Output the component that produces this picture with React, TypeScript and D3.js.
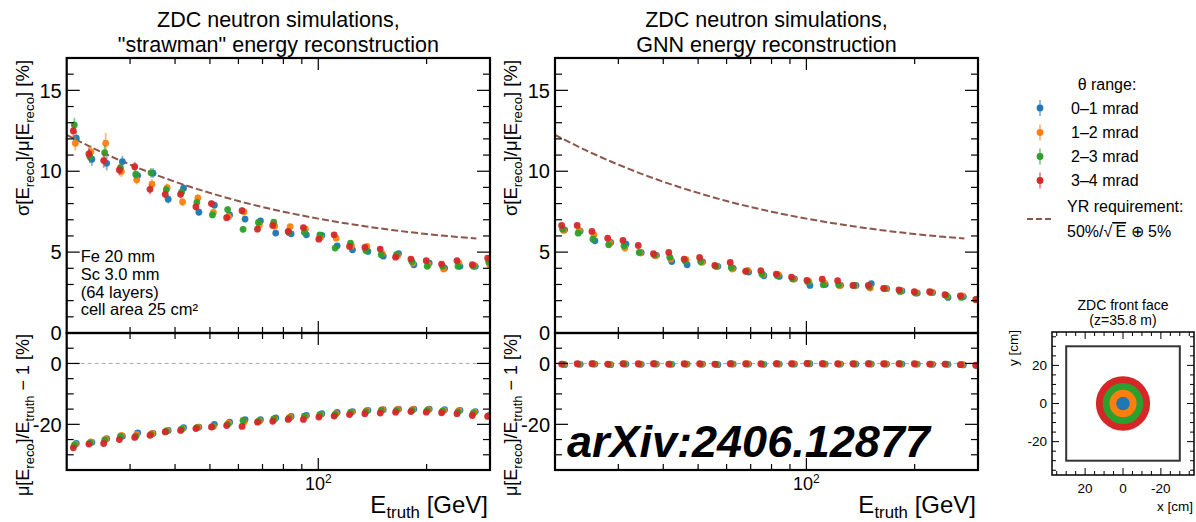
import React from 'react';
import * as d3 from 'd3';

const FONT = '"Liberation Sans", Arial, Helvetica, sans-serif';

// beam energies (bin centres) in GeV
const energies = [21, 23.2, 25.5, 28.2, 31.1, 34.3, 37.8, 41.7, 46, 50.8, 56, 61.8, 68.2, 75.2,
  83, 91.5, 101, 111.4, 122.9, 135.6, 149.6, 165, 182, 200.8, 221.5, 244.4, 269.6, 297.4];

const thetaLabels = ['0\u20131 mrad', '1\u20132 mrad', '2\u20133 mrad', '3\u20134 mrad'];
const thetaColors = ['#1f77b4', '#ff7f0e', '#2ca02c', '#d62728'];

// "strawman" reconstruction, resolution [%]
const strawRes01 = [12.04, 10.74, 10.49, 10.6, 9.73, 9.88, 8.27, 8.95, 7.47, 7.9, 7.3, 7.04, 6.93, 6.18, 6.13, 6.07, 6.03, 5.39, 5.14, 5.04, 4.75, 4.9, 4.22, 4.32, 4.01, 4.12, 4.12, 4.3];
const strawRes12 = [11.73, 11.2, 11.73, 9.98, 9.48, 9.2, 8.98, 8.1, 8.35, 7.45, 7.2, 7.48, 6.69, 6.6, 6.58, 6.42, 5.93, 5.86, 5.39, 5.35, 4.9, 4.77, 4.32, 4.22, 3.95, 4.32, 4.18, 4.22];
const strawRes23 = [12.86, 10.9, 11.15, 10.2, 9.8, 9.9, 8.85, 8.7, 8.08, 7.3, 7.63, 6.41, 6.83, 6.85, 6.2, 6.23, 6.07, 5.25, 5.56, 5.1, 4.84, 4.84, 4.42, 4.12, 4.12, 4.12, 4.12, 4.4];
const strawRes34 = [12.49, 11.07, 10.66, 10.08, 10.28, 8.88, 8.57, 8.57, 7.8, 8.0, 7.13, 7.56, 6.42, 6.65, 6.28, 6.52, 5.8, 6.07, 5.35, 5.29, 5.19, 4.69, 4.57, 4.47, 4.26, 4.47, 4.22, 4.63];
const strawErr = [0.45, 0.4, 0.45, 0.35, 0.3, 0.3, 0.26, 0.25, 0.22, 0.21, 0.2, 0.2, 0.18, 0.16, 0.15, 0.15, 0.14, 0.13, 0.12, 0.12, 0.11, 0.1, 0.1, 0.1, 0.1, 0.1, 0.1, 0.1];

// "strawman" reconstruction, bias [%]
const strawBias01 = [-26.3, -25.9, -24.7, -23.9, -22.8, -23.0, -22.0, -21.1, -20.9, -20.0, -19.3, -18.5, -18.5, -17.9, -17.4, -17.1, -16.5, -16.1, -15.8, -15.4, -15.2, -15.0, -15.0, -15.0, -15.2, -15.4, -15.8, -16.8];
const strawBias12 = [-26.6, -25.8, -24.9, -23.6, -23.3, -23.0, -22.0, -21.4, -20.9, -20.7, -19.6, -19.2, -18.9, -18.3, -17.6, -17.4, -16.8, -16.5, -16.0, -15.5, -15.2, -15.1, -15.1, -15.2, -15.4, -15.5, -16.0, -17.0];
const strawBias23 = [-26.8, -26.1, -25.2, -24.0, -23.9, -23.3, -22.3, -21.6, -21.1, -20.7, -20.0, -18.7, -19.0, -18.2, -17.9, -17.3, -16.8, -16.7, -16.1, -15.8, -15.4, -15.4, -15.4, -15.4, -15.7, -15.9, -16.3, -17.2];
const strawBias34 = [-27.7, -26.5, -26.3, -25.0, -24.3, -23.6, -22.5, -22.0, -21.4, -20.9, -20.4, -20.7, -19.3, -19.0, -18.4, -18.4, -17.6, -17.3, -16.8, -16.5, -16.3, -16.0, -15.8, -16.0, -16.2, -16.5, -17.1, -17.4];

// GNN reconstruction, resolution [%]
const gnnRes01 = [6.38, 6.3, 5.7, 5.6, 5.49, 4.96, 4.8, 4.42, 4.22, 4.4, 4.12, 4.0, 3.77, 3.54, 3.5, 3.35, 2.94, 3.0, 2.95, 2.94, 3.05, 2.74, 2.6, 2.47, 2.5, 2.2, 2.25, 2.1];
const gnnRes12 = [6.34, 6.34, 6.07, 5.56, 5.25, 4.94, 4.77, 4.57, 4.53, 4.36, 4.12, 3.95, 3.87, 3.62, 3.6, 3.33, 3.19, 3.09, 2.92, 2.92, 2.78, 2.74, 2.6, 2.5, 2.52, 2.3, 2.3, 2.1];
const gnnRes23 = [6.42, 6.17, 5.8, 5.45, 5.39, 4.98, 4.82, 4.69, 4.45, 4.42, 4.12, 4.05, 3.81, 3.64, 3.54, 3.35, 3.15, 2.98, 2.98, 2.94, 2.85, 2.74, 2.57, 2.47, 2.5, 2.33, 2.2, 2.1];
const gnnRes34 = [6.65, 6.65, 6.28, 5.86, 5.72, 5.41, 4.9, 4.98, 4.57, 4.67, 4.18, 4.36, 3.81, 3.85, 3.64, 3.46, 3.25, 3.33, 3.23, 2.94, 2.94, 2.76, 2.67, 2.55, 2.55, 2.37, 2.3, 2.06];
const gnnErr = [0.08, 0.08, 0.07, 0.07, 0.07, 0.06, 0.06, 0.06, 0.05, 0.05, 0.05, 0.05, 0.05, 0.04, 0.04, 0.04, 0.04, 0.04, 0.04, 0.04, 0.04, 0.03, 0.03, 0.03, 0.03, 0.03, 0.03, 0.03];

// GNN reconstruction, bias [%]
const gnnBias01 = [-0.4, -0.3, -0.2, -0.4, -0.2, -0.3, -0.2, -0.3, -0.2, -0.2, -0.4, -0.2, -0.2, -0.3, -0.2, -0.2, -0.1, -0.2, -0.2, -0.2, -0.2, -0.2, -0.2, -0.2, -0.3, -0.3, -0.5, -0.8];
const gnnBias12 = [-0.3, -0.2, -0.2, -0.3, -0.1, -0.2, -0.2, -0.2, -0.2, -0.3, -0.3, -0.2, -0.1, -0.2, -0.2, -0.1, -0.1, -0.2, -0.2, -0.1, -0.2, -0.1, -0.2, -0.2, -0.2, -0.3, -0.4, -0.7];
const gnnBias23 = [-0.2, -0.2, -0.1, -0.3, -0.2, -0.2, -0.1, -0.2, -0.2, -0.2, -0.3, -0.1, -0.2, -0.2, -0.1, -0.2, -0.1, -0.1, -0.2, -0.2, -0.1, -0.2, -0.1, -0.2, -0.2, -0.2, -0.4, -0.7];
const gnnBias34 = [-0.2, -0.1, -0.1, -0.2, -0.1, -0.1, -0.1, -0.2, -0.1, -0.1, -0.2, -0.1, -0.1, -0.1, -0.1, -0.1, 0.0, -0.1, -0.1, -0.1, -0.1, -0.1, -0.1, -0.1, -0.2, -0.2, -0.4, -0.6];

// YR requirement 50%/sqrt(E) (+) 5%
const yrEnergies = [20, 25, 30, 40, 50, 60, 80, 100, 130, 160, 200, 240, 275];
const yrValues = [12.25, 11.18, 10.41, 9.35, 8.66, 8.16, 7.5, 7.07, 6.65, 6.37, 6.12, 5.95, 5.84];

const xMinorTicks = [30, 40, 50, 60, 70, 80, 90, 200];
const xMajorTicks = [100];
const resTickLabels = [0, 5, 10, 15];
const biasTickLabels = [0, -20];

// front face: outer radius of each theta ring at z = 35.8 m [cm]
const ringRadii = [3.58, 7.16, 10.74, 14.32];
const faceTickLabels = [20, 0, -20];

const seriesDx = [2, 1, 0, -1];

const RES_TOP = 58, MID = 333, BOT = 470;

// text pieces with subscripts: [text, isSub]
function SubText({ parts, dy = 5, size = 0.72 }: any) {
  let shifted = false;
  return (
    <>
      {parts.map(([t, isSub]: any, i: number) => {
        let d = 0;
        if (isSub && !shifted) { d = dy; shifted = true; }
        else if (!isSub && shifted) { d = -dy; shifted = false; }
        return (
          <tspan key={i} dy={d || undefined} fontSize={isSub ? `${size}em` : undefined}>{t}</tspan>
        );
      })}
    </>
  );
}

function Panel({ left, right, res, bias, err, title2, note }: any) {
  const x = d3.scaleLog().domain([20, 300]).range([left, right]);
  const yRes = d3.scaleLinear().domain([0, 17]).range([MID, RES_TOP]);
  const yBias = d3.scaleLinear().domain([-35, 10]).range([BOT, MID]);
  const cx = (left + right) / 2;
  const yrLine = d3.line<number>()
    .x((_, i) => x(yrEnergies[i]))
    .y(d => yRes(d))
    .curve(d3.curveMonotoneX);

  const xTicks = (yTop: number, yBot: number, k: string) => (
    <g key={k} stroke="#000" strokeWidth={1.2}>
      {xMinorTicks.map(v => (
        <g key={v}>
          <line x1={x(v)} x2={x(v)} y1={yTop} y2={yTop + 6} />
          <line x1={x(v)} x2={x(v)} y1={yBot} y2={yBot - 6} />
        </g>
      ))}
      {xMajorTicks.map(v => (
        <g key={v}>
          <line x1={x(v)} x2={x(v)} y1={yTop} y2={yTop + 12} />
          <line x1={x(v)} x2={x(v)} y1={yBot} y2={yBot - 12} />
        </g>
      ))}
    </g>
  );

  const yTicks = (scale: any, vals: number[], isMajor: (v: number) => boolean, k: string) => (
    <g key={k} stroke="#000" strokeWidth={1.2}>
      {vals.map(v => {
        const len = isMajor(v) ? 13 : 7;
        const y = scale(v);
        return (
          <g key={v}>
            <line x1={left} x2={left + len} y1={y} y2={y} />
            <line x1={right} x2={right - len} y1={y} y2={y} />
          </g>
        );
      })}
    </g>
  );

  const dots = (sets: number[][], scale: any, errs: number[] | null) =>
    sets.map((vals, s) => (
      <g key={s}>
        {vals.map((v, i) => {
          const px = x(energies[i]) + seriesDx[s];
          const e = errs ? errs[i] * (s === 1 && i === 2 ? 1.4 : 1) : 0;
          return (
            <g key={i}>
              {errs && (
                <line x1={px} x2={px} y1={scale(v - e)} y2={scale(v + e)}
                  stroke={thetaColors[s]} strokeOpacity={0.55} strokeWidth={1.8} />
              )}
              <circle cx={px} cy={scale(v)} r={3.4} fill={thetaColors[s]} fillOpacity={0.95} />
            </g>
          );
        })}
      </g>
    ));

  const labX = left - 38;

  return (
    <g>
      <clipPath id={`clipTop${left}`}>
        <rect x={left} y={RES_TOP} width={right - left} height={MID - RES_TOP} />
      </clipPath>
      <clipPath id={`clipBot${left}`}>
        <rect x={left} y={MID} width={right - left} height={BOT - MID} />
      </clipPath>

      <text x={cx} y={27} textAnchor="middle" fontSize={21.5}>ZDC neutron simulations,</text>
      <text x={cx} y={52} textAnchor="middle" fontSize={21.5}>{title2}</text>

      {/* top: resolution */}
      <g clipPath={`url(#clipTop${left})`}>
        <path d={yrLine(yrValues) || ''} fill="none" stroke="#8c564b" strokeWidth={2}
          strokeDasharray="7,3" />
        {dots(res, yRes, err)}
      </g>
      {/* bottom: bias */}
      <line x1={left} x2={right} y1={yBias(0)} y2={yBias(0)} stroke="#aaa" strokeWidth={1}
        strokeDasharray="4,3" />
      <g clipPath={`url(#clipBot${left})`}>{dots(bias, yBias, null)}</g>

      {xTicks(RES_TOP, MID, 'xt1')}
      {xTicks(MID, BOT, 'xt2')}
      {yTicks(yRes, d3.range(0, 18), v => v % 5 === 0, 'yt1')}
      {yTicks(yBias, d3.range(-35, 11, 5), v => v % 20 === 0, 'yt2')}

      <rect x={left} y={RES_TOP} width={right - left} height={MID - RES_TOP} fill="none"
        stroke="#000" strokeWidth={2.2} />
      <rect x={left} y={MID} width={right - left} height={BOT - MID} fill="none"
        stroke="#000" strokeWidth={2.2} />

      {resTickLabels.map(v => (
        <text key={v} x={left - 5} y={yRes(v)} dy="0.36em" textAnchor="end" fontSize={20}>{v}</text>
      ))}
      {biasTickLabels.map(v => (
        <text key={v} x={left - 5} y={yBias(v)} dy="0.36em" textAnchor="end" fontSize={20}>{v}</text>
      ))}

      <text transform={`translate(${labX},138) rotate(-90)`} textAnchor="middle" fontSize={18.5}>
        <SubText parts={[['\u03c3[E', false], ['reco', true], [']/\u03bc[E', false], ['reco', true], ['] [%]', false]]} />
      </text>
      <text transform={`translate(${labX},415) rotate(-90)`} textAnchor="middle" fontSize={18}>
        <SubText parts={[['\u03bc[E', false], ['reco', true], [']/E', false], ['truth', true], [' \u2212 1 [%]', false]]} />
      </text>

      <text x={x(100)} y={490} textAnchor="middle" fontSize={18}>
        10<tspan dy={-7} fontSize={12}>2</tspan>
      </text>
      <text x={right - 2} y={513} textAnchor="end" fontSize={24}>
        <SubText parts={[['E', false], ['truth', true], [' [GeV]', false]]} dy={5} size={0.7} />
      </text>

      {note && (
        <g fontSize={16.5}>
          {note.map((line: any, i: number) => (
            <text key={i} x={left + 14} y={262 + i * 17.8}>{line}</text>
          ))}
        </g>
      )}
    </g>
  );
}

function Legend() {
  const mx = 1040;
  const rows = [108, 132.5, 156.5, 180.5];
  return (
    <g fontSize={16}>
      <text x={1107} y={90} textAnchor="middle">{'\u03b8 range:'}</text>
      {thetaLabels.map((t, i) => (
        <g key={t}>
          <line x1={mx} x2={mx} y1={rows[i] - 8} y2={rows[i] + 8} stroke={thetaColors[i]}
            strokeOpacity={0.55} strokeWidth={1.8} />
          <circle cx={mx} cy={rows[i]} r={3.4} fill={thetaColors[i]} />
          <text x={1071} y={rows[i]} dy="0.36em">{t}</text>
        </g>
      ))}
      <line x1={1027} x2={1053} y1={219} y2={219} stroke="#8c564b" strokeWidth={2}
        strokeDasharray="6,3" />
      <text x={1067} y={212}>YR requirement:</text>
      <text x={1067} y={237}>
        <tspan>50%/</tspan>
        <tspan>{'\u221a'}</tspan>
        <tspan style={{ textDecoration: 'overline' }}>{'\u2009E'}</tspan>
        <tspan>{' \u2295 5%'}</tspan>
      </text>
    </g>
  );
}

function FrontFace() {
  const fx = d3.scaleLinear().domain([37.5, -37.5]).range([1052, 1194]);
  const fy = d3.scaleLinear().domain([-37.5, 37.5]).range([475, 332]);
  const ticks = d3.range(-35, 36, 5);
  const cx = fx(0), cy = fy(0);
  return (
    <g>
      <text x={1123} y={310} textAnchor="middle" fontSize={14}>ZDC front face</text>
      <text x={1123} y={325} textAnchor="middle" fontSize={14}>(z=35.8 m)</text>
      {ringRadii.slice().reverse().map((r, k) => {
        const s = ringRadii.length - 1 - k;
        return (
          <ellipse key={s} cx={cx} cy={cy} rx={Math.abs(fx(r) - cx)} ry={Math.abs(fy(r) - cy)}
            fill={thetaColors[s]} />
        );
      })}
      <rect x={fx(30)} y={fy(30)} width={fx(-30) - fx(30)} height={fy(-30) - fy(30)}
        fill="none" stroke="#333" strokeWidth={2} />
      <g stroke="#000" strokeWidth={1}>
        {ticks.map(v => {
          const len = v % 20 === 0 ? 7 : 4;
          return (
            <g key={v}>
              <line x1={fx(v)} x2={fx(v)} y1={fy(-37.5)} y2={fy(-37.5) - len} />
              <line x1={fx(v)} x2={fx(v)} y1={fy(37.5)} y2={fy(37.5) + len} />
              <line x1={fx(37.5)} x2={fx(37.5) + len} y1={fy(v)} y2={fy(v)} />
              <line x1={fx(-37.5)} x2={fx(-37.5) - len} y1={fy(v)} y2={fy(v)} />
            </g>
          );
        })}
      </g>
      <rect x={1052} y={332} width={142} height={143} fill="none" stroke="#000" strokeWidth={1.5} />
      {faceTickLabels.map(v => (
        <g key={v} fontSize={13.5}>
          <text x={1047} y={fy(v)} dy="0.36em" textAnchor="end">{v}</text>
          <text x={fx(v)} y={493} textAnchor="middle">{v}</text>
        </g>
      ))}
      <text x={1193} y={511} textAnchor="end" fontSize={13.5}>x [cm]</text>
      <text transform="translate(1018,348) rotate(-90)" textAnchor="middle" fontSize={13.5}>y [cm]</text>
    </g>
  );
}

export default function App() {
  const note = ['Fe 20 mm', 'Sc 3.0 mm', '(64 layers)', 'cell area 25 cm\u00b2'];
  return (
    <svg width={1196} height={522} style={{ position: 'absolute', left: 0, top: 0, background: '#fff' }}
      fontFamily={FONT}>
      <Panel left={66.7} right={490}
        res={[strawRes01, strawRes12, strawRes23, strawRes34]}
        bias={[strawBias01, strawBias12, strawBias23, strawBias34]}
        err={strawErr} title2={'"strawman" energy reconstruction'} note={note} />
      <Panel left={555} right={978}
        res={[gnnRes01, gnnRes12, gnnRes23, gnnRes34]}
        bias={[gnnBias01, gnnBias12, gnnBias23, gnnBias34]}
        err={gnnErr} title2="GNN energy reconstruction" note={null} />
      <text x={567} y={457} fontSize={45} fontWeight="bold" fontStyle="italic">arXiv:2406.12877</text>
      <Legend />
      <FrontFace />
    </svg>
  );
}
